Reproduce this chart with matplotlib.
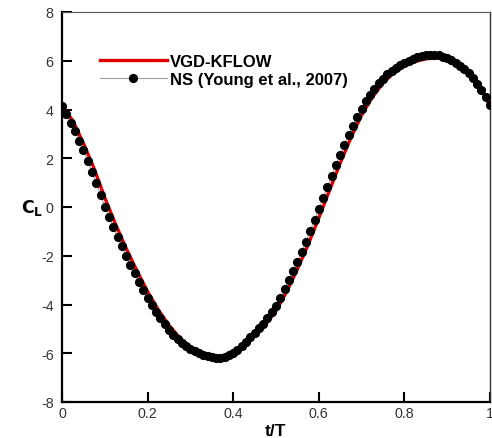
import matplotlib
matplotlib.use("Agg")
import matplotlib.pyplot as plt
import numpy as np

plt.rcParams['font.family'] = ['Liberation Sans', 'DejaVu Sans']

# NS (Young et al., 2007) markers, t/T = 0.00 ... 1.00 step 0.01
ns_t = [round(i * 0.01, 2) for i in range(101)]
ns_cl = [4.15, 3.80, 3.45, 3.10, 2.72, 2.32, 1.90, 1.45, 0.98, 0.50,
         0.02, -0.42, -0.82, -1.22, -1.62, -2.00, -2.36, -2.72, -3.07, -3.40,
         -3.72, -4.02, -4.30, -4.56, -4.80, -5.03, -5.24, -5.42, -5.58, -5.71,
         -5.82, -5.92, -6.00, -6.07, -6.13, -6.17, -6.20, -6.20, -6.16, -6.09,
         -5.99, -5.85, -5.70, -5.53, -5.34, -5.15, -4.96, -4.78, -4.55, -4.31,
         -4.05, -3.72, -3.36, -3.00, -2.63, -2.24, -1.84, -1.42, -0.98, -0.54,
         -0.10, 0.36, 0.82, 1.27, 1.72, 2.14, 2.56, 2.96, 3.34, 3.70,
         4.03, 4.33, 4.60, 4.85, 5.07, 5.27, 5.44, 5.58, 5.70, 5.81,
         5.91, 6.00, 6.08, 6.14, 6.19, 6.22, 6.24, 6.24, 6.22, 6.17,
         6.10, 6.02, 5.92, 5.80, 5.65, 5.48, 5.28, 5.05, 4.80, 4.52,
         4.18]

# VGD-KFLOW line, t/T = 0.000 ... 1.000 step 0.025
vgd_t = [round(i * 0.025, 3) for i in range(41)]
vgd_cl = [4.15, 3.55, 2.62, 1.58, 0.38, -0.70, -1.70, -2.61, -3.47, -4.22,
          -4.85, -5.37, -5.74, -5.98, -6.10, -6.14, -6.05, -5.75, -5.30, -4.84,
          -4.26, -3.47, -2.55, -1.55, -0.45, 0.68, 1.80, 2.84, 3.77, 4.50,
          5.08, 5.50, 5.78, 5.97, 6.08, 6.12, 6.05, 5.82, 5.52, 4.98,
          4.15]

x_ticks = [0, 0.2, 0.4, 0.6, 0.8, 1.0]
x_ticklabels = ['0', '0.2', '0.4', '0.6', '0.8', '1']
y_ticks = [-8, -6, -4, -2, 0, 2, 4, 6, 8]
y_ticklabels = ['-8', '-6', '-4', '-2', '0', '2', '4', '6', '8']

fig = plt.figure(figsize=(4.92, 4.39), dpi=100)
ax = fig.add_axes([62 / 492, 1 - 403 / 439, 428 / 492, 390 / 439])

ax.plot(vgd_t, vgd_cl, color='#e00000', lw=2.4, label='VGD-KFLOW', zorder=2)
ax.plot(ns_t, ns_cl, color='#a0a0a0', lw=0.8, marker='o', ms=5.6,
        mfc='black', mec='black', label='NS (Young et al., 2007)', zorder=3)

ax.set_xlim(0, 1)
ax.set_ylim(-8, 8)
ax.set_xticks(x_ticks)
ax.set_xticklabels(x_ticklabels)
ax.set_yticks(y_ticks)
ax.set_yticklabels(y_ticklabels)

ax.tick_params(direction='in', length=7, width=1.5, colors='black',
               labelcolor='#333333', labelsize=10.3, top=False, right=False)
ax.tick_params(axis='y', pad=6)
ax.tick_params(axis='x', pad=3)

for s in ['left', 'bottom']:
    ax.spines[s].set_linewidth(1.6)
    ax.spines[s].set_color('black')
ax.spines['top'].set_linewidth(0.8)
ax.spines['top'].set_color('#555555')
ax.spines['right'].set_linewidth(1.0)
ax.spines['right'].set_color('#333333')

ax.set_xlabel('t/T', fontsize=12.5, fontweight='bold', labelpad=2)
ax.set_ylabel(r'$\mathbf{C_L}$', fontsize=12.5, fontweight='bold', labelpad=6,
              rotation=0, va='center')

leg = ax.legend(loc='upper left', bbox_to_anchor=(0.089, 0.892), frameon=False,
                borderpad=0, borderaxespad=0,
                handlelength=4.0, handletextpad=0.2, labelspacing=0.15,
                prop={'weight': 'bold', 'size': 12})

fig.savefig('out.png', dpi=100)
